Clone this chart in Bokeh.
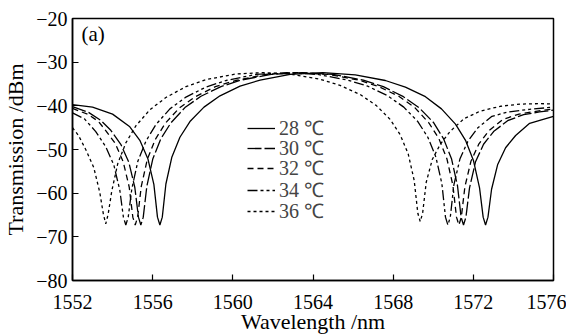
from bokeh.plotting import figure
from bokeh.models import Range1d, FixedTicker, Legend, LegendItem, Label
from bokeh.embed import file_html
from bokeh.resources import INLINE

# ---- data ----
w28 = [1552.0, 1553.0, 1554.0, 1554.86, 1555.36, 1555.76, 1556.06, 1556.24, 1556.36, 1556.48, 1556.66, 1556.96, 1557.36, 1557.86, 1558.56, 1559.36, 1560.36, 1561.36, 1562.86, 1564.49, 1566.11, 1567.61, 1568.61, 1569.61, 1570.41, 1571.11, 1571.61, 1572.01, 1572.31, 1572.49, 1572.61, 1572.73, 1572.91, 1573.21, 1573.61, 1574.11, 1574.81, 1575.4, 1576.0]
t28 = [-39.7, -40.3, -41.9, -44.8, -47.9, -52.1, -58.0, -65.5, -67.3, -65.5, -57.9, -51.7, -47.2, -43.6, -40.3, -37.7, -35.5, -34.1, -32.8, -32.4, -32.9, -34.2, -35.7, -37.9, -40.7, -44.2, -47.9, -52.6, -58.8, -65.5, -67.3, -65.5, -59.1, -53.5, -49.6, -46.8, -44.0, -43.2, -42.4]

w30 = [1552.0, 1552.8, 1553.4, 1553.91, 1554.41, 1554.81, 1555.11, 1555.29, 1555.41, 1555.53, 1555.71, 1556.01, 1556.41, 1556.91, 1557.61, 1558.41, 1559.41, 1560.41, 1561.91, 1563.46, 1565.01, 1566.51, 1567.51, 1568.51, 1569.31, 1570.01, 1570.51, 1570.91, 1571.21, 1571.39, 1571.51, 1571.63, 1571.81, 1572.11, 1572.51, 1573.01, 1573.71, 1574.51, 1575.3, 1576.0]
t30 = [-40.2, -41.5, -43.3, -45.6, -48.8, -52.9, -58.7, -65.5, -67.3, -65.5, -58.4, -52.1, -47.5, -43.9, -40.4, -37.8, -35.6, -34.1, -32.8, -32.4, -32.8, -34.1, -35.6, -37.9, -40.5, -43.8, -47.5, -52.1, -58.3, -65.5, -67.3, -65.5, -58.8, -52.8, -48.8, -45.9, -43.4, -42.0, -41.4, -41.0]

w32 = [1552.0, 1552.8, 1553.3, 1553.63, 1554.13, 1554.53, 1554.83, 1555.01, 1555.13, 1555.25, 1555.43, 1555.73, 1556.13, 1556.63, 1557.33, 1558.13, 1559.13, 1560.13, 1561.63, 1563.2, 1564.77, 1566.28, 1567.28, 1568.28, 1569.08, 1569.78, 1570.28, 1570.68, 1570.98, 1571.16, 1571.28, 1571.40, 1571.58, 1571.88, 1572.28, 1572.78, 1573.48, 1574.28, 1575.2, 1576.0]
t32 = [-40.6, -42.0, -43.6, -45.5, -48.6, -52.8, -58.6, -65.5, -67.3, -65.5, -58.5, -52.3, -47.7, -44.0, -40.5, -37.9, -35.6, -34.2, -32.8, -32.4, -32.8, -34.1, -35.6, -37.8, -40.4, -43.9, -47.5, -52.1, -58.2, -65.5, -67.3, -65.5, -58.5, -52.7, -48.7, -45.7, -43.1, -41.9, -41.2, -40.7]

w34 = [1552.0, 1552.6, 1553.16, 1553.66, 1554.06, 1554.36, 1554.54, 1554.66, 1554.78, 1554.96, 1555.26, 1555.66, 1556.16, 1556.86, 1557.66, 1558.66, 1559.66, 1561.16, 1562.7, 1564.23, 1565.73, 1566.73, 1567.73, 1568.53, 1569.23, 1569.73, 1570.13, 1570.43, 1570.61, 1570.73, 1570.85, 1571.03, 1571.33, 1571.73, 1572.23, 1572.93, 1573.73, 1574.8, 1576.0]
t34 = [-41.6, -43.0, -45.9, -49.4, -53.5, -59.3, -65.5, -67.3, -65.5, -59.0, -52.7, -48.1, -44.3, -40.7, -38.0, -35.7, -34.2, -32.8, -32.4, -32.8, -34.1, -35.5, -37.7, -40.3, -43.6, -47.2, -51.7, -57.8, -65.5, -67.3, -65.5, -58.1, -52.2, -48.1, -45.0, -42.4, -41.4, -40.8, -40.3]

w36 = [1552.0, 1552.3, 1552.66, 1553.06, 1553.36, 1553.54, 1553.66, 1553.78, 1553.96, 1554.26, 1554.66, 1555.16, 1555.86, 1556.66, 1557.66, 1558.66, 1560.16, 1561.5, 1562.85, 1564.35, 1565.35, 1566.35, 1567.15, 1567.85, 1568.35, 1568.75, 1569.05, 1569.23, 1569.35, 1569.47, 1569.65, 1569.95, 1570.35, 1570.85, 1571.55, 1572.35, 1573.35, 1574.35, 1575.35, 1576.0]
t36 = [-45.0, -46.8, -50.0, -54.1, -59.8, -64.8, -67.0, -64.8, -59.5, -53.2, -48.5, -44.6, -40.9, -38.1, -35.6, -34.0, -32.7, -32.4, -32.7, -33.9, -35.3, -37.4, -39.9, -43.1, -46.6, -51.0, -57.1, -64.6, -66.5, -64.6, -57.5, -52.3, -48.8, -45.8, -42.9, -41.2, -40.1, -39.6, -39.5, -39.6]

labels = ["28 \u2103", "30 \u2103", "32 \u2103", "34 \u2103", "36 \u2103"]
x_ticks = [1552, 1556, 1560, 1564, 1568, 1572, 1576]
y_ticks = [-80, -70, -60, -50, -40, -30, -20]

FONT = "Liberation Serif"

p = figure(frame_width=481, frame_height=262, output_backend="svg", toolbar_location=None,
           x_range=Range1d(1552, 1576), y_range=Range1d(-80, -20),
           min_border_left=65, min_border_right=13, min_border_top=18, min_border_bottom=3,
           background_fill_color="white", border_fill_color="white")
p.grid.visible = False
p.outline_line_color = "black"
p.outline_line_width = 1.5
p.outline_line_alpha = 1

for ax in (p.xaxis[0], p.yaxis[0]):
    ax.axis_line_width = 1.5
    ax.major_tick_in = 6
    ax.major_tick_out = 0
    ax.major_tick_line_width = 1.2
    ax.minor_tick_line_color = None
    ax.major_label_text_font = FONT
    ax.major_label_text_font_size = "20px"
    ax.major_label_text_color = "black"
    ax.axis_label_text_font = FONT
    ax.axis_label_text_font_size = "22px"
    ax.axis_label_text_font_style = "normal"
    ax.axis_label_text_color = "black"

p.xaxis.major_label_standoff = 14
p.yaxis.major_label_standoff = 5
p.xaxis.ticker = FixedTicker(ticks=x_ticks)
p.yaxis.ticker = FixedTicker(ticks=y_ticks)
p.yaxis.major_label_overrides = {t: "\u2212" + str(abs(t)) for t in y_ticks}
p.xaxis.axis_label = "Wavelength /nm"
p.yaxis.axis_label = "Transmission /dBm"
p.xaxis.axis_label_standoff = -3
p.yaxis.axis_label_standoff = 5

series = [(w28, t28, "solid"), (w30, t30, "14 3"), (w32, t32, "6 4"),
          (w34, t34, "10 3 3 3 3 3"), (w36, t36, "3 3")]
legend_y = [139, 119, 99, 77, 56]
for (w, t, dash), lab, ly in zip(series, labels, legend_y):
    r = p.line(w, t, line_color="black", line_width=1.3, line_dash=dash)
    leg = Legend(items=[LegendItem(label=lab, renderers=[r])], location=(175, ly),
                 border_line_color=None, background_fill_alpha=0,
                 label_text_font=FONT, label_text_font_size="20px",
                 glyph_width=28, glyph_height=20, label_height=20, spacing=0,
                 padding=0, margin=0, label_standoff=4)
    p.add_layout(leg)

p.add_layout(Label(x=1552.45, y=-23.6, text="(a)", text_baseline="middle",
                   text_font=FONT, text_font_size="21px", text_color="black"))

open("out.html", "w").write(file_html(p, INLINE))
